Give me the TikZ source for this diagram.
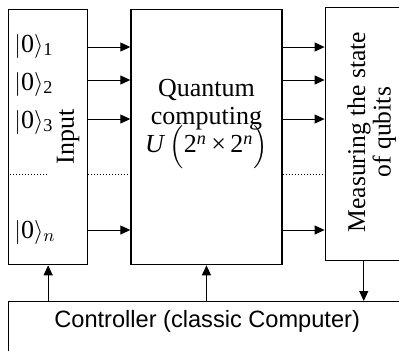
\documentclass[tikz,border=0pt]{standalone}
\usepackage{amsmath}
\usepackage{fontspec}
\setmainfont{Liberation Serif}
\newfontfamily\ctrlfont{Liberation Sans}
\newcommand\tightlines{\lineskiplimit=-20pt\relax\lineskip=0pt\relax}
\usetikzlibrary{positioning, arrows.meta}

\begin{document}
\begin{tikzpicture}[
                  x=1pt, y=1pt,
                  box/.style={draw, line width=0.65pt, inner sep=0pt},
                  stage/.style={box, minimum height=127.5pt},
                  arr/.style={-{Triangle[length=5pt, width=4.5pt]}, line width=0.5pt},
                  dots/.style={densely dotted, line width=0.5pt},
                  qlabel/.style={anchor=west, inner sep=0pt, font=\fontsize{13}{14}\selectfont},
                  node distance=21pt,
                  font=\fontsize{13}{14}\selectfont,
            ]
            \useasboundingbox (0,0) rectangle (199.5,175);
            \clip (0,0) rectangle (199.5,175);

            \node[stage, minimum width=39.5pt, anchor=north west] (input) at (4,170.5) {};
            \node[stage, minimum width=75.5pt, right=of input] (qc) {};
            \node[box, minimum width=38.5pt, minimum height=126.5pt, right=of qc, yshift=1.5pt] (meas) {};
            \node[box, anchor=north west, minimum width=198.5pt, inner xsep=0pt, inner ysep=4pt,
                  text height=9pt, text depth=20pt, font=\ctrlfont\fontsize{11.8}{14}\selectfont]
                  (ctrl) at (4,24.5) {Controller (classic Computer)};

            % texts inside the boxes
            \node[rotate=90] (inputtxt) at ([xshift=10pt]input.center) {Input};
            \node[align=center, font={\fontsize{13}{14}\selectfont\tightlines}]
                  (qctxt) at ([yshift=6.5pt]qc.center)
                  {Quantum\\computing\\\textit{U}\,$\Bigl($2\textsuperscript{\textit{n}}\,×\,2\textsuperscript{\textit{n}}$\Bigr)$};
            \node[rotate=90, align=center, font=\fontsize{12.8}{11.5}\selectfont] (meastxt)
                  at ([xshift=4pt, yshift=1pt]meas.center) {Measuring the state\\of qubits};

            \node[qlabel] (q1) at ([xshift=3pt]input.west |- 0,152) {$\lvert\text{0}\rangle_{\text{1}}$};
            \node[qlabel] (q2) at ([xshift=3pt]input.west |- 0,133) {$\lvert\text{0}\rangle_{\text{2}}$};
            \node[qlabel] (q3) at ([xshift=3pt]input.west |- 0,114) {$\lvert\text{0}\rangle_{\text{3}}$};
            \node[qlabel] (qn) at ([xshift=3pt]input.west |- 0,59) {$\lvert\text{0}\rangle_{n}$};

            \foreach \y in {151.5, 135, 115.5, 60} {
                  \draw[arr] (input.east |- 0,\y) -- (qc.west |- 0,\y);
                  \draw[arr] (qc.east |- 0,\y) -- (meas.west |- 0,\y);
            }
            \draw[dots] ([xshift=1pt]input.west |- 0,88) -- ([xshift=-21pt]input.east |- 0,88);
            \draw[dots] (input.east |- 0,88) -- (qc.west |- 0,88);
            \draw[dots] (qc.east |- 0,88) -- (meas.west |- 0,88);

            \draw[arr] (ctrl.north -| input.south) -- (input.south);
            \draw[arr] (ctrl.north -| qc.south) -- (qc.south);
            \draw[arr] (meas.south) -- (ctrl.north -| meas.south);

      \end{tikzpicture}
\end{document}
